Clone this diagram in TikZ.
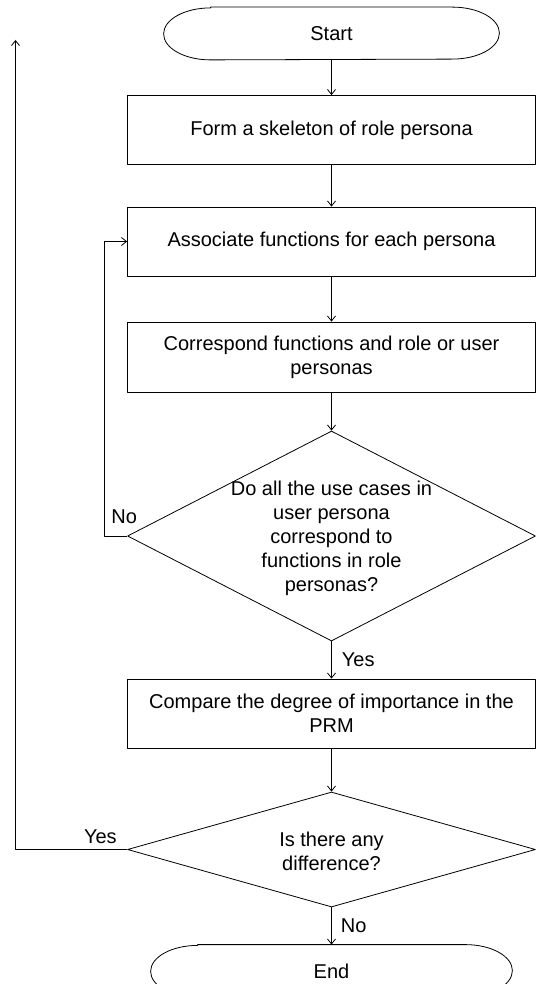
\documentclass[tikz,border=0pt]{standalone}
\usepackage{fontspec}
\setmainfont{Liberation Sans}
\usetikzlibrary{shapes.geometric,arrows.meta}
\tikzset{
  term/.style={rectangle,minimum width=335pt,minimum height=52pt,inner sep=0pt},
  proc/.style={draw,rectangle,minimum width=408pt,minimum height=69pt,inner sep=0pt,align=center},
  cond/.style={draw,diamond,minimum width=408pt,inner sep=0pt},
  lbl/.style={inner sep=2pt}
}
\begin{document}
\begin{tikzpicture}[x=1pt,y=-1pt,line join=round,line width=0.8pt,
  font=\fontsize{20}{24}\selectfont,>={Straight Barb[length=5pt,width=8pt]}]
\useasboundingbox (0,0) rectangle (537,984);
\node[term] (start) at (331.5,33.5) {Start};
\node[proc] (form) at (331.5,130) {Form a skeleton of role persona};
\node[proc] (assoc) at (331.5,241.5) {Associate functions for each persona};
\node[proc,minimum height=70pt] (corr) at (331.5,357) {Correspond functions and role or user\\personas};
\node[cond,minimum height=210pt] (check) at (331.5,536) {};
\node[align=center] (checktxt) at (331.5,538) {Do all the use cases in\\user persona\\correspond to\\functions in role\\personas?};
\node[proc] (cmp) at (331.5,713.5) {Compare the degree of importance in the\\PRM};
\node[cond,minimum height=115pt] (diff) at (331.5,849.5) {};
\node[align=center] (difftxt) at (331.5,851) {Is there any\\difference?};
\node[term,minimum width=361pt] (end) at (331.5,971) {End};
\foreach \n in {start,end}
  \draw ([xshift=47]\n.north west) -- ([xshift=-47]\n.north east)
    arc[start angle=90,end angle=-90,x radius=47pt,y radius=26pt]
    -- ([xshift=47]\n.south west)
    arc[start angle=-90,end angle=-270,x radius=47pt,y radius=26pt] -- cycle;
\coordinate (top) at (15.5,40);
\draw[->] (start) -- (form);
\draw[->] (form) -- (assoc);
\draw[->] (assoc) -- (corr);
\draw[->] (corr) -- (check);
\draw[->] (check) -- node[lbl,right=8pt] (yes1) {Yes} (cmp);
\draw[->] (cmp) -- (diff);
\draw[->] (diff) -- node[lbl,right=7pt] (no2) {No} (end);
\draw[->] (check.west) node[lbl,above=10pt,xshift=-3pt] (no1) {No} -- ++(-22.5,0) |- (assoc.west);
\draw[->] (diff.west) -| node[lbl,pos=0.12,above=3pt] (yes2) {Yes} (top);
\end{tikzpicture}
\end{document}
